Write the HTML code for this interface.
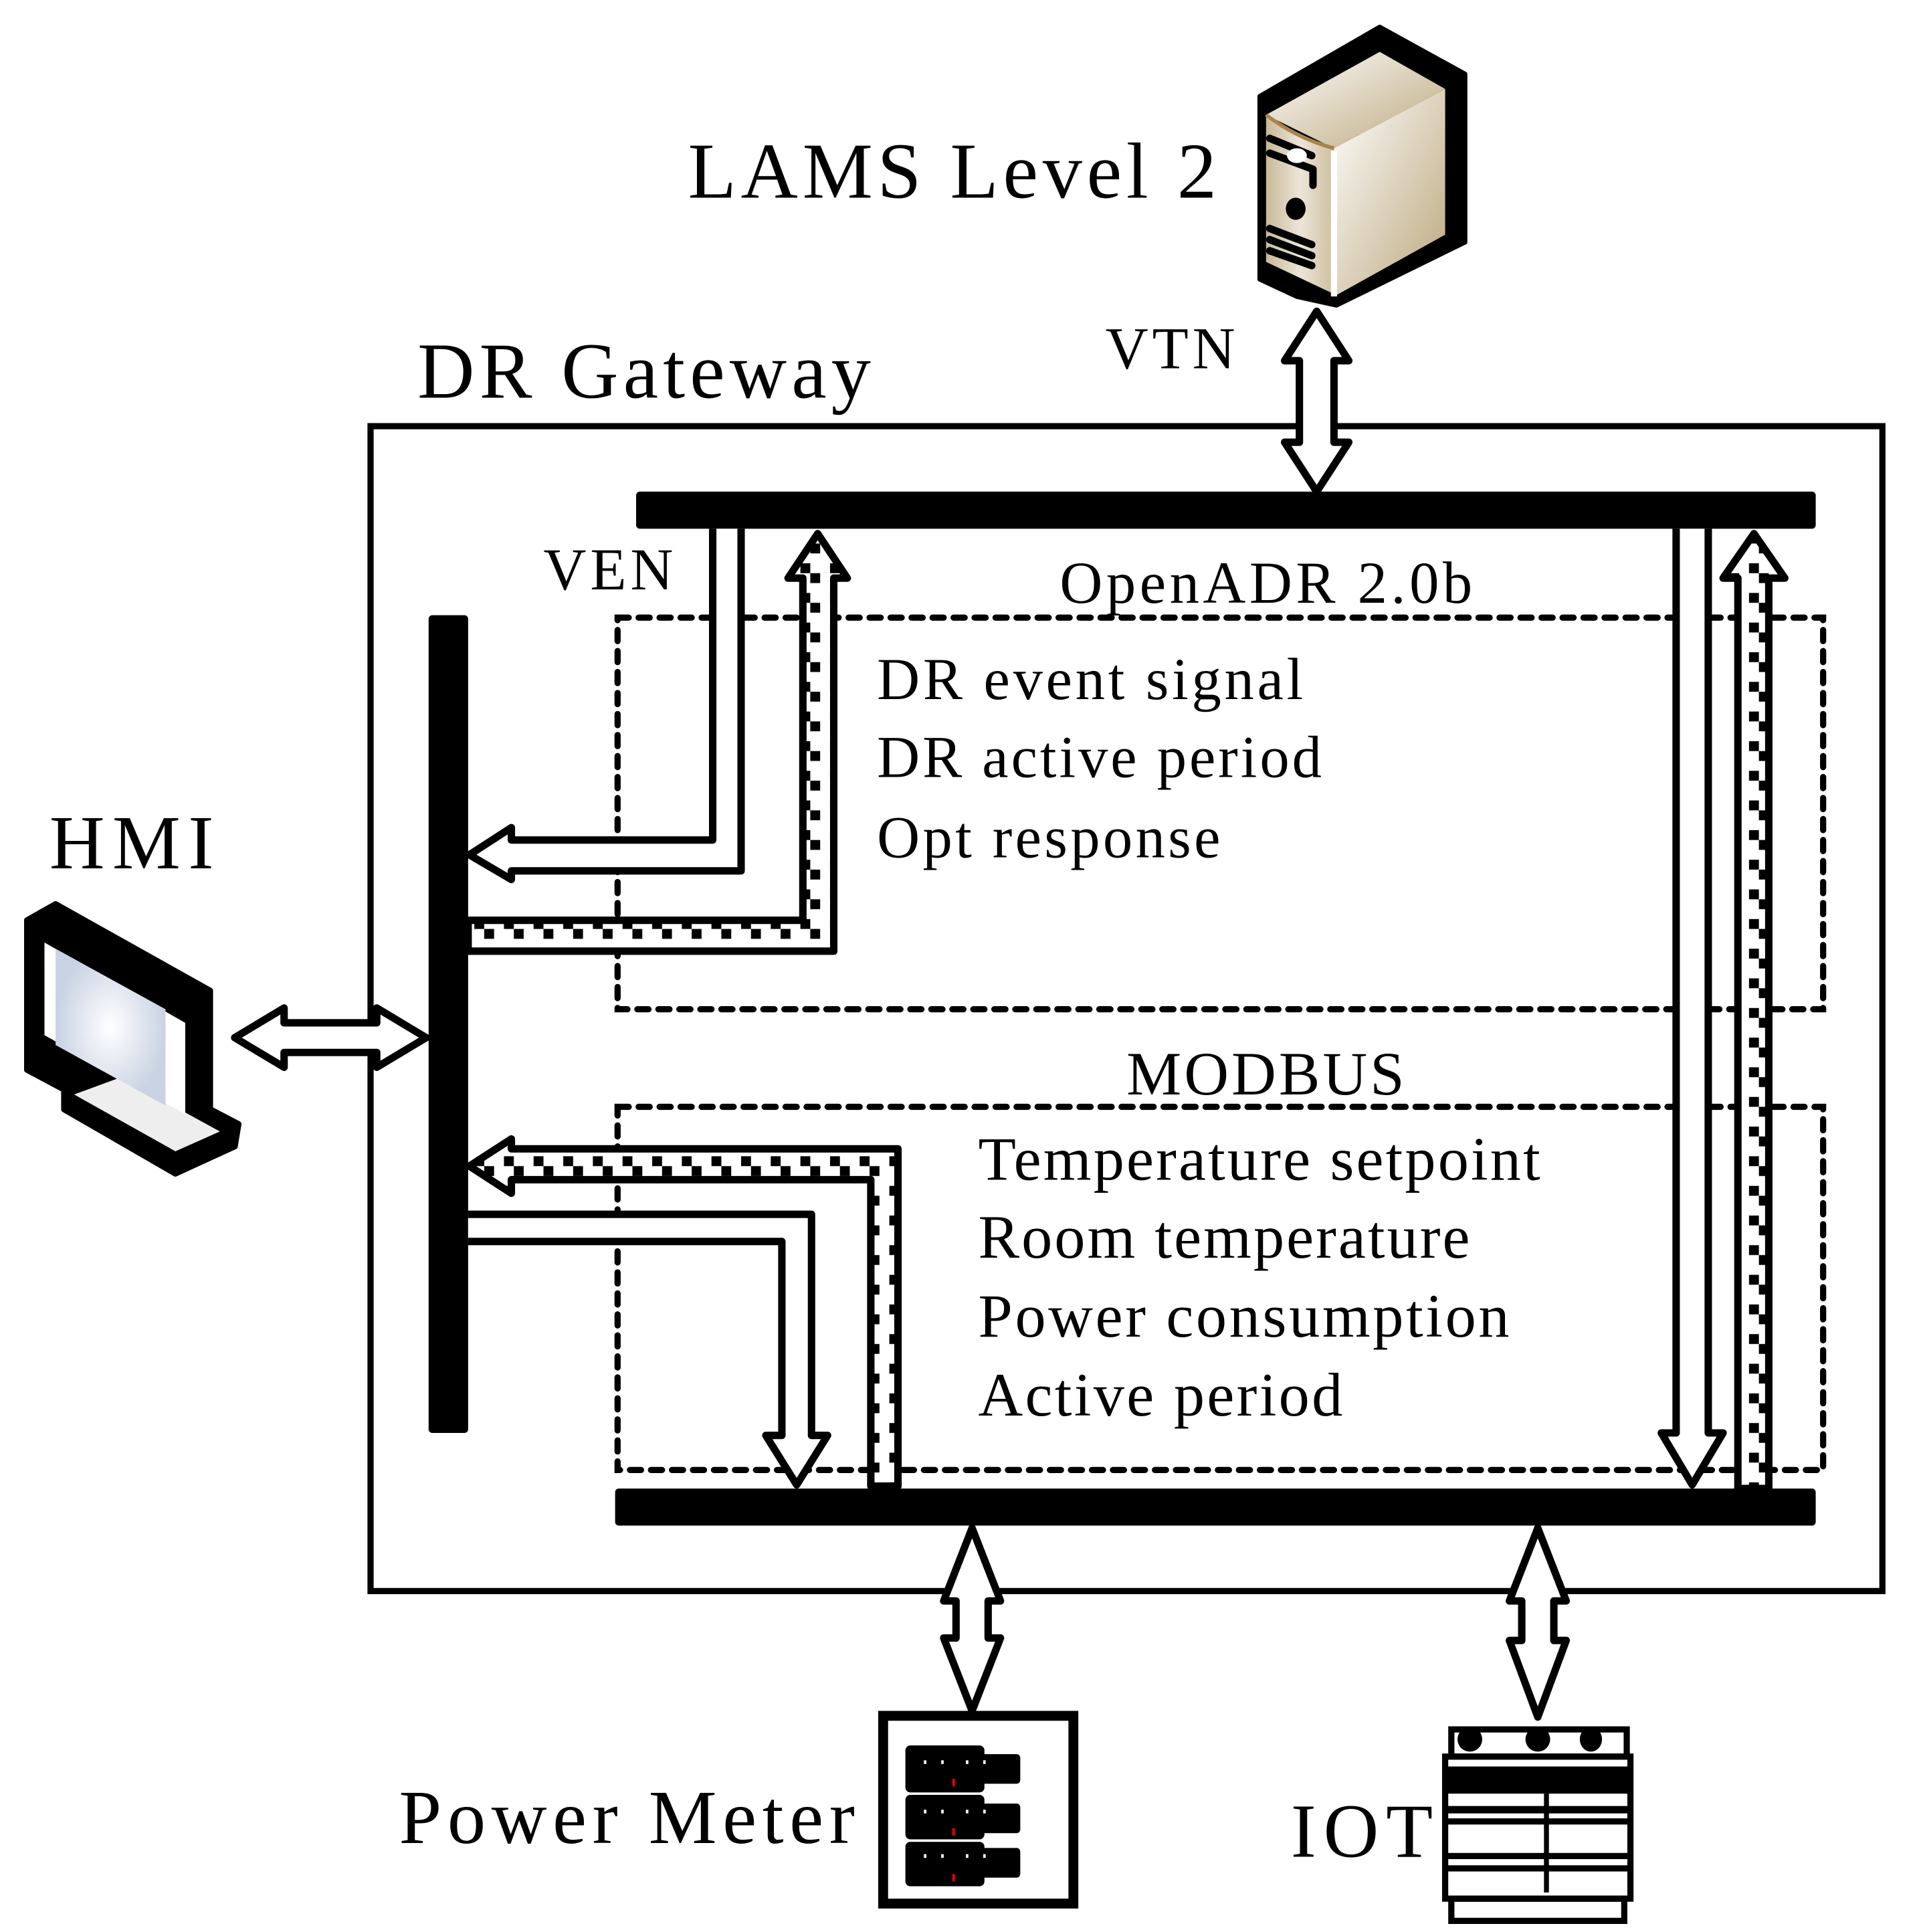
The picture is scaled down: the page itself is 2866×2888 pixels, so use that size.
<!DOCTYPE html>
<html><head><meta charset="utf-8"><style>html,body{margin:0;padding:0;background:#fff}svg{display:block}</style></head>
<body>
<svg width="2866" height="2888" viewBox="0 0 1552 1564" preserveAspectRatio="none" xmlns="http://www.w3.org/2000/svg" font-family="'Liberation Serif', serif">
<defs>
<pattern id="chk" width="24" height="24" patternUnits="userSpaceOnUse">
<rect width="24" height="24" fill="#fff"/>
<rect x="0" y="0" width="8" height="8" fill="#000"/>
<rect x="8" y="8" width="8" height="8" fill="#000"/>
</pattern>
<linearGradient id="sv" x1="0" y1="0" x2="1" y2="1"><stop offset="0" stop-color="#fff"/><stop offset="1" stop-color="#bba77c"/></linearGradient>
<linearGradient id="sv2" x1="0" y1="0" x2="1" y2="0"><stop offset="0" stop-color="#c9b998"/><stop offset="0.5" stop-color="#ece5d8"/><stop offset="1" stop-color="#cdbf9f"/></linearGradient>
<radialGradient id="scr"><stop offset="0" stop-color="#fff"/><stop offset="1" stop-color="#c9d3e3"/></radialGradient>
</defs>
<rect width="1552" height="1564" fill="#fff"/>

<rect x="300" y="345" width="1224" height="943" fill="none" stroke="#000" stroke-width="5"/>

<g fill="none" stroke="#000" stroke-width="5" stroke-dasharray="9 8" stroke-linecap="round">
<rect x="500" y="500" width="976" height="317"/>
<rect x="500" y="896" width="976" height="294"/>
</g>

<rect x="515" y="398" width="955" height="30" rx="3" fill="#000"/>
<rect x="498" y="1205" width="972" height="30" rx="3" fill="#000"/>
<rect x="347" y="498" width="32" height="662" rx="3" fill="#000"/>

<g stroke="#000" stroke-width="6" stroke-linejoin="round">
<path d="M577,428 V680 H414 V670 L380,692 L414,712 V705 H600 V428" fill="#fff"/>
<path d="M379,745 H650 V468 H638 L662,432 L686,468 H675 V770 H379 Z" fill="url(#chk)"/>
<path d="M705,1203 V955 H414 V966 L380,944 L414,922 V930 H727 V1203 Z" fill="url(#chk)"/>
<path d="M379,983 H657 V1162 H670 L645,1202 L620,1162 H633 V1005 H379" fill="#fff"/>
<path d="M1357,428 V1160 H1345 L1370,1202 L1395,1160 H1383 V428" fill="#fff"/>
<path d="M1407,1205 V468 H1395 L1420,432 L1445,468 H1432 V1205 Z" fill="url(#chk)"/>
<path d="M1066,252 L1092,292 H1080 V358 H1092 L1066,398 L1040,358 H1052 V292 H1040 Z" fill="#fff"/>
<path d="M787,1237 L810,1296 H800 V1326 H810 L787,1385 L764,1326 H774 V1296 H764 Z" fill="#fff"/>
<path d="M1245,1237 L1268,1296 H1258 V1328 H1268 L1245,1390 L1222,1328 H1232 V1296 H1222 Z" fill="#fff"/>
<path d="M190,840 L230,816 V828 H305 V816 L345,840 L305,864 V852 H230 V864 Z" fill="#fff"/>
</g>

<!-- server icon -->
<g stroke-linejoin="round">
<path d="M1020,78 L1117,22 L1186,60 V196 L1082,247 L1050,240 L1020,226 Z" fill="#000" stroke="#000" stroke-width="4"/>
<path d="M1025,93 L1117,42 L1170,72 L1080,120 Z" fill="url(#sv)"/>
<path d="M1025,93 Q1050,112 1080,120 V238 L1025,212 Z" fill="url(#sv2)"/>
<path d="M1080,120 L1170,72 V190 L1080,240 Z" fill="url(#sv)"/>
<path d="M1080,122 V240" stroke="#fff" stroke-width="5"/>
<path d="M1025,93 Q1050,112 1080,120" stroke="#a8844f" stroke-width="3" fill="none"/>
<g stroke="#000" stroke-width="6" stroke-linecap="round" fill="none">
<path d="M1028,112 L1062,126"/><path d="M1028,124 L1063,137 V150"/>
<path d="M1028,185 L1062,198"/><path d="M1028,194 L1062,207"/><path d="M1028,203 L1062,215"/>
</g>
<ellipse cx="1050" cy="126" rx="8" ry="6" fill="#fff"/>
<ellipse cx="1049" cy="169" rx="8" ry="9" fill="#000"/>
</g>

<!-- monitor icon -->
<g stroke-linejoin="round">
<path d="M22,745 L45,732 L170,802 V898 L193,910 L190,928 L142,950 L52,898 L52,882 L22,866 Z" fill="#000" stroke="#000" stroke-width="5"/>
<path d="M60,886 L142,932 L178,916 L98,872 Z" fill="#eee"/>
<path d="M36,763 L150,828 V902 L36,838 Z" fill="#fff"/>
<path d="M45,768 L134,817 V895 L45,846 Z" fill="url(#scr)"/>
</g>

<!-- power meter -->
<rect x="715" y="1389" width="154" height="152" fill="none" stroke="#000" stroke-width="8"/>
<g fill="#000">
<rect x="733" y="1413" width="64" height="38" rx="4"/><rect x="790" y="1420" width="36" height="24" rx="3"/>
<rect x="733" y="1453" width="64" height="36" rx="4"/><rect x="790" y="1460" width="36" height="24" rx="3"/>
<rect x="733" y="1491" width="64" height="36" rx="4"/><rect x="790" y="1496" width="36" height="24" rx="3"/>
</g>
<g fill="#fff">
<rect x="748" y="1425" width="2" height="3"/><rect x="762" y="1425" width="2" height="3"/><rect x="782" y="1425" width="2" height="3"/><rect x="796" y="1425" width="2" height="3"/>
<rect x="748" y="1465" width="2" height="3"/><rect x="762" y="1465" width="2" height="3"/><rect x="782" y="1465" width="2" height="3"/><rect x="796" y="1465" width="2" height="3"/>
<rect x="748" y="1501" width="2" height="3"/><rect x="762" y="1501" width="2" height="3"/><rect x="782" y="1501" width="2" height="3"/><rect x="796" y="1501" width="2" height="3"/>
</g>
<rect x="771" y="1440" width="2" height="6" fill="#e00"/><rect x="771" y="1480" width="2" height="6" fill="#e00"/><rect x="771" y="1517" width="2" height="6" fill="#e00"/>

<!-- IOT device -->
<g fill="none" stroke="#000" stroke-width="5">
<rect x="1175" y="1400" width="142" height="22"/>
<rect x="1170" y="1422" width="150" height="115"/>
<rect x="1175" y="1537" width="140" height="18"/>
</g>
<g fill="#000">
<rect x="1168" y="1430" width="154" height="22"/>
<ellipse cx="1190" cy="1408" rx="10" ry="10"/><ellipse cx="1245" cy="1408" rx="10" ry="10"/><ellipse cx="1288" cy="1408" rx="9" ry="10"/>
<rect x="1168" y="1462" width="154" height="6"/><rect x="1168" y="1472" width="154" height="5"/>
<rect x="1168" y="1500" width="154" height="5"/><rect x="1168" y="1510" width="154" height="5"/>
<rect x="1250" y="1452" width="4" height="80"/>
</g>

<g fill="#000" lengthAdjust="spacing">
<text x="557" y="160" font-size="64" textLength="428">LAMS Level 2</text>
<text x="338" y="322" font-size="64" textLength="367">DR Gateway</text>
<text x="895" y="298" font-size="48" textLength="105">VTN</text>
<text x="440" y="477" font-size="48" textLength="105">VEN</text>
<text x="858" y="488" font-size="48" textLength="334">OpenADR 2.0b</text>
<text x="710" y="566" font-size="48" textLength="345">DR event signal</text>
<text x="710" y="629" font-size="48" textLength="360">DR active period</text>
<text x="710" y="694" font-size="48" textLength="278">Opt response</text>
<text x="912" y="886" font-size="50" textLength="225">MODBUS</text>
<text x="792" y="955" font-size="50" textLength="455">Temperature setpoint</text>
<text x="792" y="1018" font-size="50" textLength="398">Room temperature</text>
<text x="792" y="1082" font-size="50" textLength="430">Power consumption</text>
<text x="792" y="1146" font-size="50" textLength="295">Active period</text>
<text x="40" y="703" font-size="62" textLength="133">HMI</text>
<text x="323" y="1492" font-size="62" textLength="369">Power Meter</text>
<text x="1045" y="1503" font-size="62" textLength="115">IOT</text>
</g>
</svg>
</body></html>
